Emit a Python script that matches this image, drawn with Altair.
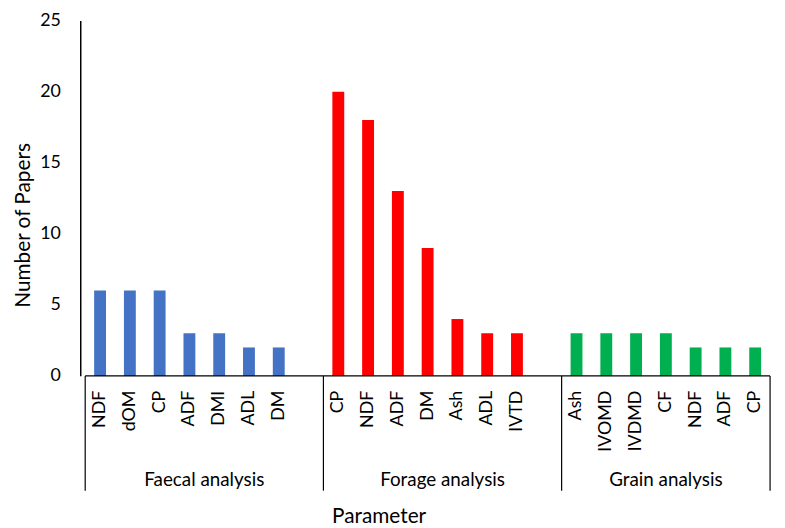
import altair as alt
import pandas as pd

groups = ["Faecal analysis", "Forage analysis", "Grain analysis"]
faecal_params = ["NDF", "dOM", "CP", "ADF", "DMI", "ADL", "DM"]
faecal_values = [6, 6, 6, 3, 3, 2, 2]
forage_params = ["CP", "NDF", "ADF", "DM", "Ash", "ADL", "IVTD"]
forage_values = [20, 18, 13, 9, 4, 3, 3]
grain_params = ["Ash", "IVOMD", "IVDMD", "CF", "NDF", "ADF", "CP"]
grain_values = [3, 3, 3, 3, 2, 2, 2]
colors = ["#4472C4", "#FF0000", "#00B050"]
y_ticks = [0, 5, 10, 15, 20, 25]

FONT = "Lato"

rows = []
for gi, (params, vals) in enumerate([(faecal_params, faecal_values),
                                      (forage_params, forage_values),
                                      (grain_params, grain_values)]):
    for j, (p, v) in enumerate(zip(params, vals)):
        rows.append({"group": groups[gi], "param": p, "value": v,
                     "slot": gi * 8 + j + 0.5})
df = pd.DataFrame(rows)

group_df = pd.DataFrame({"group": groups, "center": [4, 12, 19.5]})
sep_df = pd.DataFrame({"pos": [0, 8, 16, 23]})
base_df = pd.DataFrame({"x0": [0], "x1": [23]})

H = 359
xscale = alt.Scale(domain=[0, 23], nice=False, zero=False)
yscale = alt.Scale(domain=[0, 25], nice=False)

bars = alt.Chart(df).mark_bar(width=12).encode(
    x=alt.X("slot:Q", scale=xscale, axis=None),
    y=alt.Y("value:Q", scale=yscale,
            axis=alt.Axis(values=y_ticks, ticks=False, grid=False,
                          domainColor="black", domainWidth=1.5,
                          labelFont=FONT, labelFontSize=18, labelColor="black",
                          labelPadding=20, title=None)),
    color=alt.Color("group:N", scale=alt.Scale(domain=groups, range=colors), legend=None),
)

tick_labels = alt.Chart(df).mark_text(
    angle=270, align="right", baseline="middle", font=FONT, fontSize=18, color="black"
).encode(
    x=alt.X("slot:Q", scale=xscale),
    y=alt.value(374),
    text="param:N",
)

group_labels = alt.Chart(group_df).mark_text(
    align="center", baseline="middle", font=FONT, fontSize=19, color="black"
).encode(
    x=alt.X("center:Q", scale=xscale),
    y=alt.value(464),
    text="group:N",
)

seps = alt.Chart(sep_df).mark_rule(color="black", strokeWidth=1.2).encode(
    x=alt.X("pos:Q", scale=xscale),
    y=alt.value(H),
    y2=alt.value(475),
)

baseline = alt.Chart(base_df).mark_rule(color="black", strokeWidth=1.5).encode(
    x=alt.X("x0:Q", scale=xscale),
    x2="x1:Q",
    y=alt.value(H),
)

xtitle = alt.Chart(pd.DataFrame({"t": ["Parameter"]})).mark_text(
    align="center", baseline="middle", font=FONT, fontSize=21, color="black"
).encode(x=alt.value(302), y=alt.value(502), text="t:N")

ytitle = alt.Chart(pd.DataFrame({"t": ["Number of Papers"]})).mark_text(
    angle=270, align="center", baseline="middle", font=FONT, fontSize=21, color="black"
).encode(x=alt.value(-57), y=alt.value(207), text="t:N")

chart = alt.layer(bars, seps, baseline, tick_labels, group_labels, xtitle, ytitle).properties(
    width=702, height=H,
    autosize=alt.AutoSizeParams(type="none"),
    padding={"left": 73, "top": 10, "right": 2, "bottom": 151},
).configure_view(stroke=None)

chart.save("out.html", embed_options={"renderer": "svg", "actions": False})
